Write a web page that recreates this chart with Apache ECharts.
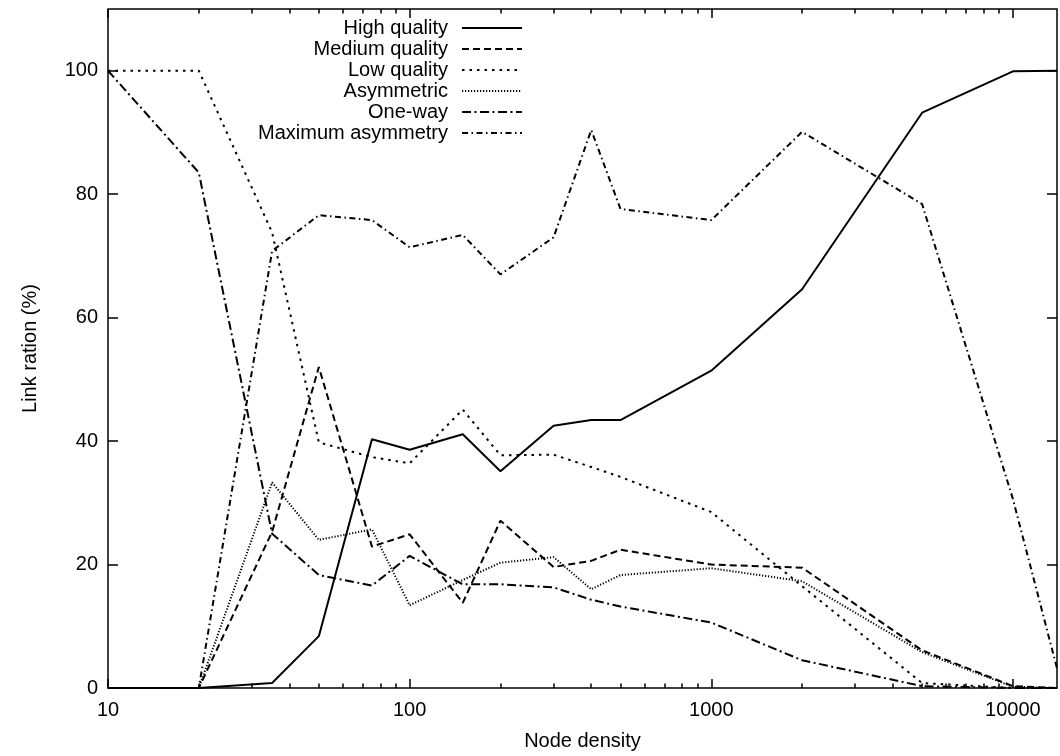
<!DOCTYPE html>
<html>
<head>
<meta charset="utf-8">
<script src="https://cdn.jsdelivr.net/npm/echarts@6/dist/echarts.min.js"></script>
<style>
  html, body { margin: 0; padding: 0; background: #fff; }
  #chart { width: 1060px; height: 756px; }
</style>
</head>
<body>
<div id="chart"></div>
<script>
// Node densities sampled along the x axis (log scale)
const density = [10, 20, 35, 50, 75, 100, 150, 200, 300, 400, 500, 1000, 2000, 5000, 10000, 14000];

// Link ratios (%) per link class
const highQuality   = [0, 0, 0.8, 8.4, 40.3, 38.6, 41.1, 35.1, 42.5, 43.4, 43.4, 51.4, 64.6, 93.2, 99.9, 100];
const mediumQuality = [0, 0, 25.3, 52.0, 22.9, 24.9, 13.8, 27.1, 19.6, 20.6, 22.4, 20.0, 19.5, 6.1, 0.3, 0];
const lowQuality    = [100, 100, 73.8, 39.8, 37.4, 36.4, 45.1, 37.7, 37.8, 35.8, 34.2, 28.5, 16.5, 0.8, 0, 0];
const asymmetric    = [0, 0, 33.3, 24.0, 25.7, 13.4, 17.5, 20.3, 21.2, 16.0, 18.3, 19.4, 17.3, 5.8, 0.2, 0];
const oneWay        = [100, 83.5, 25.0, 18.3, 16.6, 21.4, 16.8, 16.8, 16.3, 14.3, 13.2, 10.6, 4.5, 0.3, 0, 0];
const maxAsymmetry  = [0, 0, 70.8, 76.6, 75.8, 71.4, 73.4, 67.0, 73.0, 90.4, 77.6, 75.8, 90.1, 78.4, 30.6, 3.2];

// Tick positions
const xMajorTicks = [10, 100, 1000, 10000];
const xMinorTicks = [20, 30, 40, 50, 60, 70, 80, 90,
                     200, 300, 400, 500, 600, 700, 800, 900,
                     2000, 3000, 4000, 5000, 6000, 7000, 8000, 9000];
const yTicks = [0, 20, 40, 60, 80, 100];

const FONT = '"Liberation Sans", Arial, Helvetica, sans-serif';
const X_MIN = 10, X_MAX = 14000, Y_MIN = 0, Y_MAX = 110;

const seriesDefs = [
  { name: 'High quality',       values: highQuality,   dash: 'solid' },
  { name: 'Medium quality',     values: mediumQuality, dash: [7, 4] },
  { name: 'Low quality',        values: lowQuality,    dash: [2.5, 5] },
  { name: 'Asymmetric',         values: asymmetric,    dash: [1.2, 1.8] },
  { name: 'One-way',            values: oneWay,        dash: [9, 3.5, 2, 3.5] },
  { name: 'Maximum asymmetry',  values: maxAsymmetry,  dash: [6, 3.5, 1.5, 3.5] }
];

const tickStyle = { color: '#000', width: 1.5 };

function xAxisDef(position, ticks, len, withLabels) {
  const ax = {
    type: 'log', logBase: 10, min: X_MIN, max: X_MAX, position: position,
    axisLine: { show: false },
    splitLine: { show: false },
    minorTick: { show: false },
    axisTick: { show: true, inside: true, length: len, customValues: ticks, lineStyle: tickStyle },
    axisLabel: { show: false }
  };
  if (withLabels) {
    ax.axisLabel = {
      show: true, customValues: ticks, margin: 12,
      color: '#000', fontSize: 20, fontFamily: FONT,
      formatter: v => String(Math.round(v))
    };
    ax.name = 'Node density';
    ax.nameLocation = 'middle';
    ax.nameGap = 43;
    ax.nameTextStyle = { color: '#000', fontSize: 20, fontFamily: FONT };
  }
  return ax;
}

function yAxisDef(position, withLabels) {
  const ax = {
    type: 'value', min: Y_MIN, max: Y_MAX, position: position,
    axisLine: { show: false },
    splitLine: { show: false },
    axisTick: { show: true, inside: true, length: 10, customValues: yTicks, lineStyle: tickStyle },
    axisLabel: { show: false }
  };
  if (withLabels) {
    ax.axisLabel = {
      show: true, customValues: yTicks, margin: 10,
      color: '#000', fontSize: 20, fontFamily: FONT
    };
    ax.name = 'Link ration (%)';
    ax.nameLocation = 'middle';
    ax.nameGap = 68;
    ax.nameRotate = 90;
    ax.nameTextStyle = { color: '#000', fontSize: 20, fontFamily: FONT };
  }
  return ax;
}

const chart = echarts.init(document.getElementById('chart'), null, { renderer: 'canvas' });

chart.setOption({
  animation: false,
  backgroundColor: '#fff',
  grid: {
    left: 108, right: 3, top: 9, bottom: 66,
    show: true, borderColor: '#000', borderWidth: 1.5, backgroundColor: 'transparent'
  },
  legend: {
    orient: 'vertical',
    align: 'right',
    right: 537,
    top: 18,
    padding: 0,
    itemWidth: 60,
    itemHeight: 14,
    itemGap: 1,
    selectedMode: false,
    // line samples only, no marker
    itemStyle: { color: 'rgba(0,0,0,0)', borderWidth: 0, opacity: 0 },
    textStyle: { color: '#000', fontSize: 20, fontFamily: FONT, padding: [0, 9, 0, 0] },
    data: seriesDefs.map(s => s.name)
  },
  xAxis: [
    xAxisDef('bottom', xMajorTicks, 9, true),
    xAxisDef('bottom', xMinorTicks, 4.5, false),
    xAxisDef('top', xMajorTicks, 9, false),
    xAxisDef('top', xMinorTicks, 4.5, false)
  ],
  yAxis: [
    yAxisDef('left', true),
    yAxisDef('right', false)
  ],
  series: seriesDefs.map(s => ({
    name: s.name,
    type: 'line',
    xAxisIndex: 0,
    yAxisIndex: 0,
    symbol: 'none',
    showSymbol: false,
    clip: true,
    data: density.map((x, i) => [x, s.values[i]]),
    lineStyle: { color: '#000', width: 2, type: s.dash },
    itemStyle: { color: '#000' },
    emphasis: { disabled: true }
  }))
});
</script>
</body>
</html>
